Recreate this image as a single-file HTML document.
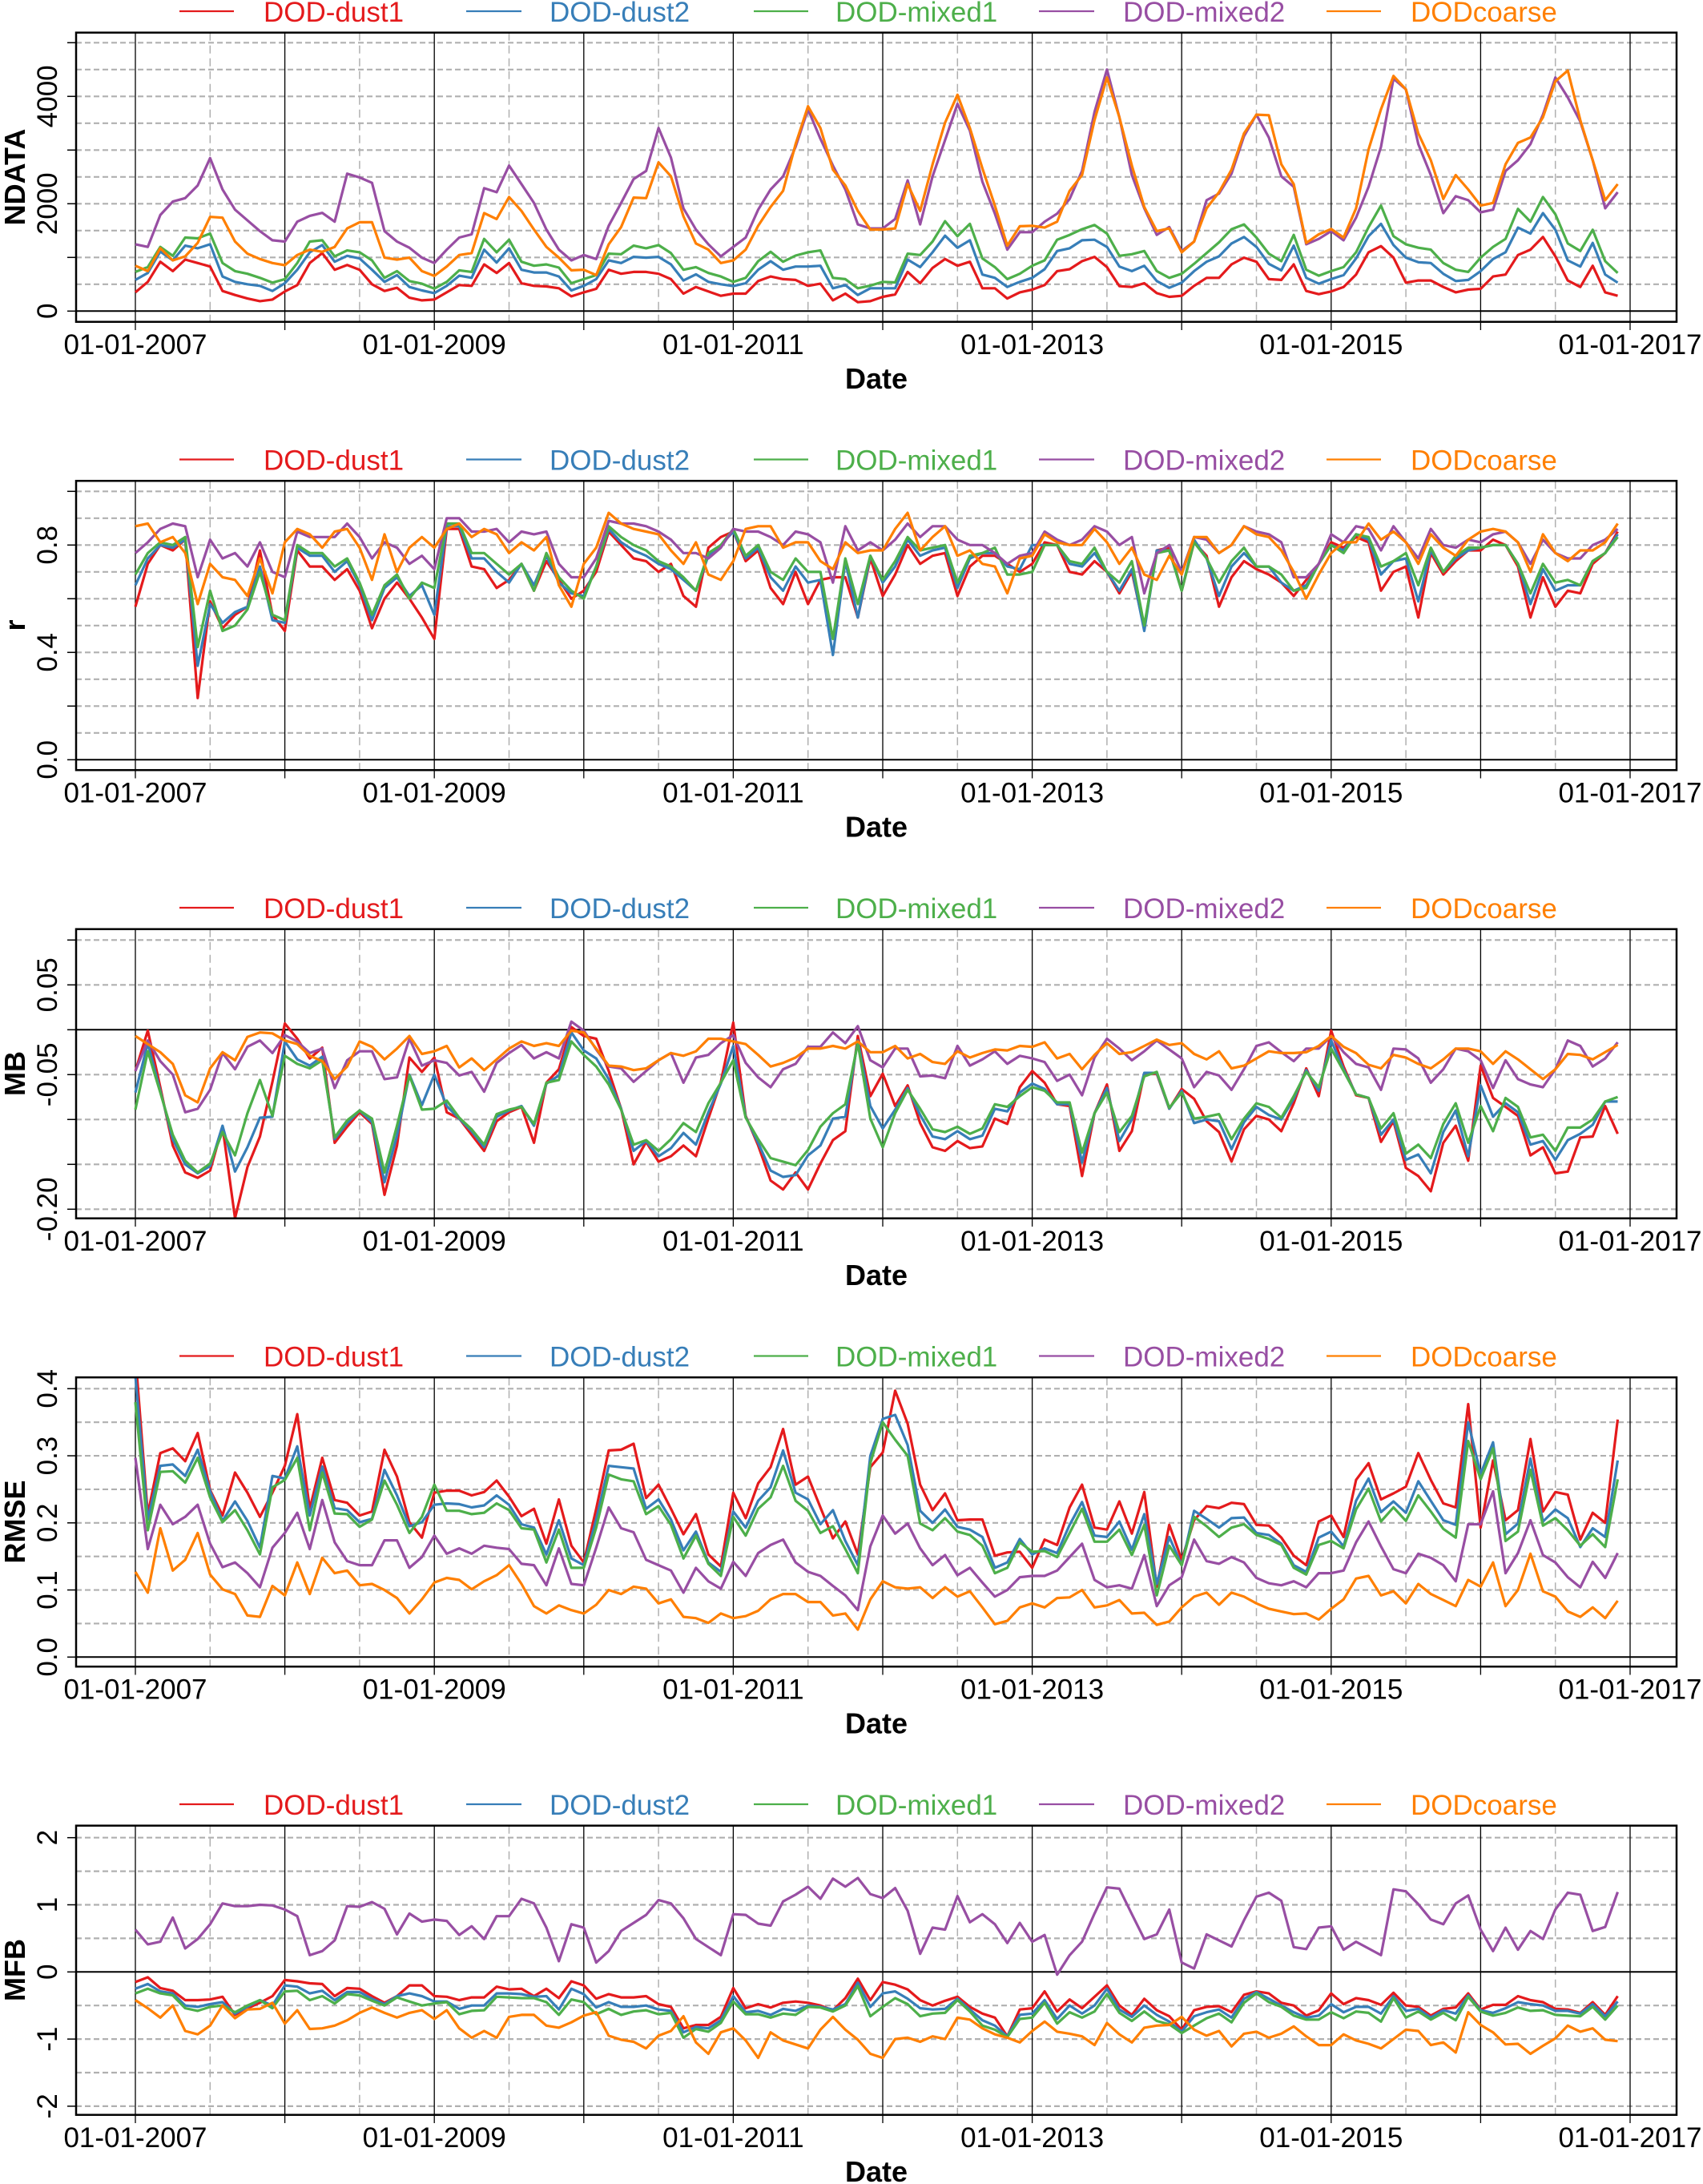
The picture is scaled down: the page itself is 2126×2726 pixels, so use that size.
<!DOCTYPE html>
<html><head><meta charset="utf-8">
<style>
html,body{margin:0;padding:0;background:#fff;}
svg{display:block;font-family:"Liberation Sans",Arial,sans-serif;}
</style></head>
<body>
<svg id="chart" xmlns="http://www.w3.org/2000/svg" width="2126" height="2726" viewBox="0 0 2126 2726"></svg>
<script>
// ---------------- DATA ----------------
const seriesNames = ["DOD-dust1","DOD-dust2","DOD-mixed1","DOD-mixed2","DODcoarse"];
const startYear = 2007;
const xTickYears = [2007,2008,2009,2010,2011,2012,2013,2014,2015,2016,2017];
const xTickLabels = ["01-01-2007","","01-01-2009","","01-01-2011","","01-01-2013","","01-01-2015","","01-01-2017"];

const ndataDust1 = [350,545,920,745,960,895,830,375,300,235, 185,215,365,485,895,1080,770,860,770,500, 375,435,250,200,215,350,485,470,870,710, 895,520,470,460,425,275,350,415,770,695, 730,730,695,595,325,450,365,285,325,325, 560,645,595,580,470,510,200,325,165,185, 265,310,730,520,805,970,845,920,425,425, 235,350,400,485,745,780,930,1010,820,465, 450,520,335,265,285,470,620,620,870,995, 920,595,580,870,375,315,365,450,680,1095, 1210,995,530,570,570,450,350,400,415,645, 680,1045,1145,1380,1020,570,450,845,350,285];
const ndataDust2 = [580,710,1110,945,1220,1170,1245,645,545,500, 470,375,520,770,1095,1230,920,1030,980,770, 545,670,450,385,335,470,660,620,1145,905, 1170,770,720,720,645,385,470,595,945,895, 1010,995,1010,870,570,685,545,500,465,520, 770,930,770,830,830,845,425,485,300,425, 425,425,960,820,1095,1405,1180,1320,680,620, 450,545,620,780,1120,1170,1320,1330,1195,830, 745,845,560,435,530,745,920,1020,1260,1380, 1195,880,760,1220,620,510,595,670,980,1395, 1625,1230,995,910,895,695,560,580,745,970, 1095,1555,1445,1825,1515,945,830,1270,680,530];
const ndataMixed1 = [730,820,1195,1030,1370,1355,1445,895,745,695, 620,530,595,895,1295,1320,1020,1130,1095,945, 620,745,560,510,420,545,760,730,1345,1095, 1330,920,845,870,810,520,595,670,1070,1060, 1220,1170,1230,1080,770,820,710,645,545,620, 930,1105,920,1035,1095,1130,620,595,425,475, 545,535,1070,1045,1295,1675,1395,1625,980,820, 595,695,845,945,1330,1420,1525,1605,1445,1030, 1060,1120,745,620,695,880,1080,1280,1525,1615, 1370,1070,930,1420,770,660,745,820,1095,1565, 1965,1395,1245,1180,1145,895,770,730,995,1195, 1345,1905,1665,2125,1805,1260,1120,1515,930,710];
const ndataMixed2 = [1245,1195,1790,2040,2105,2340,2850,2265,1890,1690, 1490,1320,1295,1665,1775,1830,1665,2560,2490,2390, 1490,1295,1180,995,895,1145,1370,1430,2290,2215, 2710,2365,2015,1520,1145,945,1045,970,1590,2015, 2460,2610,3410,2860,1915,1520,1245,1020,1195,1370, 1890,2265,2510,3060,3760,3210,2710,2265,1615,1540, 1540,1715,2435,1615,2510,3185,3860,3360,2410,1815, 1145,1470,1470,1665,1815,2090,2610,3710,4500,3610, 2535,1915,1420,1565,1120,1295,2065,2190,2560,3260, 3660,3235,2510,2315,1245,1345,1490,1320,1740,2315, 3060,4330,4130,3110,2535,1825,2140,2065,1840,1890, 2610,2810,3110,3660,4350,3980,3530,2810,1915,2215];
const ndataCoarse = [845,745,1170,945,1020,1270,1755,1740,1295,1070, 970,895,855,1045,1145,1105,1195,1540,1655,1655, 995,960,995,745,655,830,1045,1080,1825,1715, 2125,1865,1520,1195,995,760,770,670,1245,1565, 2115,2105,2770,2510,1765,1260,1145,895,945,1145, 1590,1940,2240,3110,3815,3410,2635,2340,1865,1520, 1520,1540,2365,1865,2735,3510,4030,3410,2660,1965, 1220,1580,1590,1555,1665,2240,2535,3560,4350,3610, 2710,1940,1490,1540,1095,1295,1915,2215,2635,3310, 3660,3650,2735,2365,1270,1430,1530,1370,1915,3010, 3760,4380,4130,3310,2810,2090,2535,2265,1965,2015, 2735,3135,3235,3610,4280,4480,3560,2810,2065,2365];

const rDust1 = [.57,.73,.80,.78,.82,.23,.59,.49,.54,.57, .78,.54,.48,.78,.72,.72,.67,.71,.63,.49, .60,.66,.60,.53,.45,.86,.86,.72,.71,.64, .67,.73,.63,.74,.67,.60,.63,.70,.85,.80, .75,.74,.70,.73,.61,.57,.79,.83,.85,.74, .78,.64,.58,.70,.58,.67,.68,.68,.53,.75, .61,.69,.80,.73,.76,.77,.61,.72,.76,.76, .73,.70,.73,.81,.80,.70,.69,.74,.70,.62, .70,.49,.78,.79,.63,.81,.76,.57,.68,.74, .71,.69,.66,.61,.67,.73,.81,.79,.83,.81, .63,.70,.72,.53,.77,.69,.74,.78,.78,.82, .80,.72,.53,.68,.57,.63,.62,.73,.77,.85];
const rDust2 = [.65,.75,.80,.79,.82,.35,.58,.51,.55,.57, .72,.52,.51,.79,.76,.76,.70,.74,.65,.52, .64,.68,.61,.65,.54,.87,.87,.75,.75,.70, .66,.73,.65,.76,.66,.62,.61,.72,.86,.81, .78,.76,.73,.71,.67,.63,.76,.80,.85,.75, .79,.68,.63,.72,.66,.67,.39,.74,.53,.76, .66,.72,.82,.76,.78,.79,.64,.75,.77,.77, .72,.71,.80,.80,.80,.73,.72,.77,.70,.63, .71,.48,.78,.78,.63,.82,.75,.61,.72,.77, .72,.72,.66,.63,.65,.73,.80,.78,.84,.82, .69,.74,.75,.59,.78,.70,.75,.78,.79,.80, .80,.73,.58,.71,.63,.65,.65,.74,.77,.84];
const rMixed1 = [.69,.77,.81,.80,.83,.42,.63,.48,.50,.56, .70,.54,.52,.80,.77,.77,.72,.75,.66,.54, .65,.69,.60,.66,.64,.88,.88,.77,.77,.73, .69,.73,.63,.77,.68,.63,.60,.72,.87,.83, .80,.78,.74,.72,.68,.63,.77,.80,.86,.76, .80,.70,.67,.75,.70,.70,.45,.75,.58,.76, .67,.74,.83,.78,.79,.80,.66,.76,.77,.79, .69,.69,.70,.80,.80,.74,.73,.79,.70,.66, .74,.50,.77,.78,.63,.81,.75,.66,.74,.79, .72,.72,.69,.63,.64,.73,.80,.77,.84,.83, .72,.74,.77,.65,.79,.70,.76,.79,.79,.80, .80,.73,.62,.73,.66,.67,.65,.74,.77,.83];
const rMixed2 = [.77,.81,.86,.88,.87,.68,.82,.75,.77,.72, .81,.70,.68,.85,.83,.83,.83,.88,.83,.75, .81,.79,.73,.76,.71,.90,.90,.85,.85,.86, .81,.85,.84,.85,.73,.68,.68,.75,.89,.88, .88,.87,.85,.82,.77,.77,.75,.79,.86,.85, .85,.83,.80,.85,.84,.81,.66,.87,.78,.81, .78,.82,.88,.83,.87,.87,.82,.80,.80,.77, .73,.76,.77,.85,.82,.80,.82,.87,.85,.80, .83,.62,.77,.80,.70,.83,.82,.77,.80,.87, .85,.84,.81,.68,.68,.73,.84,.81,.87,.86, .78,.87,.81,.75,.86,.80,.79,.82,.81,.84, .85,.81,.73,.82,.77,.75,.75,.80,.82,.86];
const rCoarse = [.87,.88,.81,.83,.77,.58,.73,.68,.67,.61, .75,.62,.81,.86,.84,.79,.85,.86,.79,.67, .84,.70,.79,.83,.79,.86,.88,.83,.86,.84, .77,.81,.78,.83,.65,.57,.73,.79,.92,.88, .86,.85,.84,.78,.73,.81,.69,.67,.74,.86, .87,.87,.79,.81,.81,.74,.71,.81,.77,.78, .78,.86,.92,.78,.83,.87,.76,.78,.73,.72, .62,.75,.76,.84,.81,.80,.80,.86,.81,.73, .79,.69,.67,.76,.69,.83,.83,.77,.80,.87, .84,.83,.78,.70,.60,.69,.77,.81,.81,.88, .82,.85,.81,.73,.84,.79,.76,.82,.85,.86, .85,.81,.70,.84,.77,.74,.78,.78,.81,.88];

const mbDust1 = [-.046,-.001,-.064,-.129,-.159,-.165,-.157,-.108,-.210,-.153, -.119,-.058,.007,-.010,-.032,-.020,-.126,-.108,-.092,-.105, -.184,-.129,-.031,-.047,-.031,-.092,-.099,-.117,-.135,-.102, -.092,-.086,-.126,-.059,-.044,.003,-.007,-.010,-.046,-.088, -.150,-.125,-.147,-.141,-.129,-.141,-.099,-.058,.008,-.096, -.129,-.168,-.178,-.159,-.178,-.149,-.123,-.113,-.007,-.074, -.049,-.085,-.062,-.104,-.131,-.135,-.124,-.132,-.130,-.099, -.105,-.064,-.046,-.059,-.083,-.085,-.163,-.093,-.061,-.135, -.113,-.049,-.049,-.088,-.066,-.077,-.102,-.114,-.147,-.111, -.096,-.100,-.113,-.082,-.043,-.074,-.001,-.041,-.073,-.076, -.125,-.102,-.154,-.163,-.180,-.126,-.107,-.146,-.040,-.076, -.086,-.096,-.140,-.131,-.160,-.158,-.120,-.119,-.085,-.116];
const mbDust2 = [-.070,-.015,-.068,-.122,-.150,-.160,-.152,-.107,-.158,-.131, -.098,-.097,-.013,-.033,-.040,-.030,-.122,-.104,-.090,-.103, -.170,-.118,-.050,-.084,-.050,-.085,-.099,-.113,-.131,-.097, -.090,-.085,-.107,-.060,-.051,-.003,-.023,-.032,-.055,-.088, -.135,-.124,-.141,-.132,-.115,-.128,-.092,-.060,-.018,-.097, -.126,-.157,-.164,-.162,-.140,-.129,-.099,-.097,-.012,-.085, -.110,-.089,-.065,-.095,-.119,-.122,-.113,-.122,-.118,-.088, -.091,-.070,-.060,-.066,-.083,-.083,-.148,-.093,-.065,-.124, -.100,-.048,-.048,-.088,-.068,-.104,-.100,-.102,-.133,-.103, -.086,-.095,-.100,-.077,-.045,-.068,-.012,-.044,-.072,-.076, -.117,-.100,-.145,-.139,-.160,-.114,-.090,-.141,-.062,-.097, -.082,-.092,-.128,-.124,-.145,-.123,-.116,-.106,-.080,-.080];
const mbMixed1 = [-.089,-.024,-.070,-.117,-.146,-.159,-.149,-.114,-.140,-.093, -.056,-.096,-.029,-.038,-.043,-.034,-.120,-.101,-.090,-.099, -.159,-.107,-.051,-.089,-.088,-.079,-.098,-.111,-.128,-.094, -.089,-.086,-.105,-.059,-.056,-.013,-.028,-.041,-.061,-.089, -.128,-.123,-.135,-.122,-.104,-.114,-.082,-.059,-.034,-.098, -.122,-.143,-.147,-.151,-.134,-.108,-.093,-.083,-.015,-.099, -.131,-.093,-.067,-.088,-.111,-.114,-.108,-.116,-.110,-.083, -.086,-.074,-.064,-.068,-.081,-.081,-.137,-.093,-.070,-.114, -.096,-.052,-.047,-.087,-.070,-.099,-.097,-.094,-.122,-.099, -.082,-.086,-.098,-.074,-.047,-.064,-.021,-.046,-.072,-.076, -.110,-.093,-.138,-.128,-.143,-.105,-.082,-.126,-.085,-.113, -.076,-.086,-.120,-.117,-.135,-.109,-.109,-.100,-.080,-.075];
const mbMixed2 = [-.046,-.012,-.035,-.050,-.092,-.088,-.067,-.026,-.044,-.019, -.012,-.026,-.006,-.013,-.026,-.021,-.065,-.034,-.024,-.024, -.055,-.053,-.010,-.040,-.034,-.037,-.051,-.047,-.069,-.037, -.026,-.017,-.032,-.025,-.032,.009,-.001,-.022,-.041,-.043, -.058,-.046,-.034,-.026,-.059,-.031,-.028,-.015,-.006,-.037, -.053,-.064,-.044,-.038,-.019,-.019,-.003,-.015,.004,-.034, -.042,-.021,-.021,-.052,-.051,-.054,-.018,-.040,-.033,-.024, -.038,-.029,-.032,-.036,-.057,-.050,-.073,-.031,-.010,-.021, -.034,-.024,-.012,-.022,-.032,-.064,-.047,-.051,-.067,-.044, -.018,-.014,-.025,-.035,-.021,-.021,-.007,-.025,-.038,-.042, -.067,-.021,-.022,-.032,-.059,-.044,-.021,-.024,-.034,-.065, -.034,-.055,-.061,-.064,-.044,-.012,-.018,-.041,-.032,-.014];
const mbCoarse = [-.007,-.016,-.025,-.038,-.073,-.081,-.043,-.025,-.034,-.008, -.003,-.004,-.012,-.016,-.029,-.035,-.055,-.041,-.013,-.019, -.033,-.021,-.007,-.027,-.024,-.018,-.042,-.032,-.045,-.033, -.021,-.013,-.018,-.015,-.018,-.001,-.003,-.021,-.040,-.041, -.045,-.043,-.034,-.026,-.029,-.024,-.010,-.010,-.013,-.016, -.028,-.041,-.037,-.031,-.021,-.021,-.018,-.021,-.013,-.025, -.025,-.018,-.032,-.027,-.036,-.038,-.024,-.031,-.026,-.022, -.023,-.018,-.019,-.014,-.032,-.027,-.044,-.028,-.015,-.027, -.025,-.018,-.011,-.017,-.015,-.027,-.033,-.024,-.043,-.040, -.032,-.024,-.026,-.026,-.025,-.018,-.007,-.019,-.026,-.039, -.043,-.028,-.031,-.038,-.043,-.033,-.021,-.021,-.024,-.038, -.024,-.033,-.044,-.055,-.044,-.027,-.028,-.033,-.025,-.017];

const rmseDust1 = [.45,.213,.304,.311,.292,.334,.249,.211,.275,.245, .209,.245,.285,.362,.221,.297,.234,.230,.211,.217, .309,.269,.201,.178,.245,.248,.248,.241,.246,.263, .239,.210,.221,.169,.235,.166,.141,.221,.308,.309, .318,.237,.257,.221,.183,.213,.153,.135,.245,.207, .259,.283,.340,.257,.269,.223,.177,.202,.153,.283, .305,.397,.348,.257,.219,.244,.204,.205,.205,.151, .156,.157,.133,.175,.167,.223,.257,.193,.190,.232, .184,.246,.105,.197,.145,.204,.225,.222,.230,.228, .197,.196,.178,.151,.137,.202,.211,.179,.264,.289, .235,.244,.254,.304,.264,.229,.223,.377,.193,.293, .204,.219,.325,.217,.246,.242,.175,.215,.200,.354];
const rmseDust2 = [.42,.205,.285,.287,.270,.309,.247,.203,.232,.203, .163,.270,.266,.314,.211,.284,.222,.219,.201,.206, .279,.241,.195,.201,.227,.229,.228,.223,.226,.241, .227,.198,.193,.153,.204,.147,.137,.205,.285,.283, .281,.221,.235,.205,.159,.187,.141,.127,.217,.193, .233,.253,.308,.245,.235,.198,.219,.173,.137,.300, .355,.361,.316,.218,.200,.220,.194,.190,.179,.133, .141,.176,.153,.162,.155,.197,.231,.181,.179,.202, .160,.213,.109,.179,.137,.218,.206,.193,.207,.208, .185,.182,.169,.137,.127,.178,.187,.165,.233,.266, .216,.232,.215,.262,.233,.204,.197,.350,.273,.320, .183,.199,.296,.202,.220,.207,.164,.192,.179,.293];
const rmseMixed1 = [.38,.189,.276,.277,.260,.297,.238,.201,.219,.189, .153,.253,.264,.297,.189,.275,.214,.213,.194,.205, .263,.227,.185,.209,.257,.218,.218,.213,.215,.229, .219,.192,.190,.141,.190,.133,.133,.193,.272,.265, .262,.213,.225,.197,.147,.181,.139,.121,.209,.181, .221,.238,.285,.233,.218,.185,.195,.161,.125,.289, .350,.324,.300,.199,.189,.207,.187,.182,.166,.125, .133,.171,.157,.158,.149,.185,.221,.172,.172,.190, .152,.197,.092,.166,.137,.209,.195,.179,.193,.198, .182,.176,.167,.133,.123,.167,.173,.162,.220,.251, .202,.223,.203,.241,.217,.191,.178,.322,.265,.311, .173,.187,.279,.196,.207,.189,.166,.183,.164,.265];
const rmseMixed2 = [.297,.161,.227,.198,.209,.227,.169,.134,.141,.125, .104,.163,.185,.215,.161,.234,.171,.143,.137,.137, .174,.174,.133,.149,.181,.154,.162,.154,.166,.163, .161,.139,.137,.107,.162,.109,.107,.163,.223,.192, .186,.145,.137,.129,.096,.133,.113,.102,.142,.121, .155,.167,.175,.141,.127,.121,.106,.092,.070,.165, .211,.184,.199,.162,.137,.152,.122,.133,.111,.090, .100,.119,.121,.121,.129,.149,.169,.115,.104,.107, .102,.152,.076,.107,.119,.175,.143,.139,.149,.141, .118,.110,.107,.113,.104,.125,.125,.129,.171,.202, .165,.131,.125,.154,.148,.137,.113,.198,.198,.247, .125,.155,.204,.152,.141,.119,.104,.142,.118,.155];
const rmseCoarse = [.127,.096,.192,.129,.145,.185,.123,.101,.094,.062, .060,.106,.092,.141,.094,.148,.125,.129,.107,.109, .100,.088,.065,.086,.111,.118,.115,.101,.113,.122, .137,.109,.076,.065,.077,.070,.065,.078,.100,.094, .105,.102,.080,.086,.060,.058,.051,.065,.058,.061, .069,.086,.094,.094,.082,.082,.062,.065,.041,.086, .113,.104,.102,.104,.088,.104,.090,.098,.074,.049, .054,.074,.080,.074,.088,.089,.100,.074,.077,.085, .065,.066,.048,.053,.074,.090,.096,.078,.096,.090, .080,.072,.068,.064,.065,.056,.072,.086,.117,.121, .092,.098,.080,.109,.094,.085,.076,.115,.105,.141, .076,.100,.154,.098,.090,.068,.060,.074,.058,.084];

const mfbDust1 = [-.15,-.08,-.24,-.28,-.42,-.42,-.41,-.37,-.64,-.54, -.46,-.36,-.12,-.14,-.17,-.18,-.36,-.24,-.25,-.36, -.46,-.36,-.20,-.20,-.36,-.37,-.42,-.38,-.38,-.22, -.26,-.25,-.36,-.25,-.39,-.14,-.20,-.40,-.33,-.38, -.38,-.36,-.48,-.52,-.84,-.79,-.79,-.67,-.24,-.54, -.48,-.53,-.46,-.44,-.46,-.50,-.57,-.39,-.10,-.42, -.15,-.19,-.26,-.42,-.50,-.43,-.37,-.52,-.62,-.68, -.96,-.56,-.54,-.29,-.59,-.41,-.54,-.37,-.20,-.50, -.64,-.40,-.57,-.66,-.86,-.57,-.52,-.51,-.60,-.34, -.29,-.32,-.46,-.50,-.65,-.57,-.32,-.48,-.39,-.42, -.49,-.31,-.50,-.52,-.65,-.55,-.53,-.32,-.56,-.49, -.49,-.36,-.42,-.45,-.55,-.56,-.61,-.45,-.64,-.36];
const mfbDust2 = [-.25,-.18,-.29,-.32,-.50,-.52,-.48,-.45,-.62,-.52, -.42,-.50,-.20,-.22,-.32,-.28,-.42,-.30,-.30,-.40, -.48,-.36,-.32,-.36,-.44,-.44,-.55,-.50,-.50,-.32, -.32,-.33,-.37,-.36,-.56,-.25,-.33,-.53,-.45,-.52, -.52,-.50,-.56,-.58,-.90,-.82,-.84,-.72,-.36,-.60, -.58,-.64,-.55,-.58,-.50,-.52,-.56,-.48,-.16,-.52, -.32,-.29,-.40,-.54,-.56,-.55,-.40,-.56,-.72,-.80, -.96,-.64,-.62,-.42,-.70,-.50,-.62,-.50,-.25,-.56, -.67,-.50,-.64,-.74,-.89,-.66,-.60,-.56,-.68,-.40, -.30,-.40,-.50,-.60,-.68,-.65,-.48,-.60,-.52,-.52, -.62,-.36,-.58,-.55,-.68,-.57,-.62,-.35,-.57,-.61, -.54,-.45,-.48,-.50,-.58,-.58,-.62,-.48,-.66,-.44];
const mfbMixed1 = [-.32,-.25,-.32,-.35,-.54,-.58,-.52,-.50,-.60,-.50, -.42,-.54,-.29,-.28,-.42,-.36,-.47,-.33,-.35,-.43, -.50,-.38,-.44,-.50,-.47,-.45,-.63,-.58,-.57,-.37, -.38,-.39,-.39,-.45,-.64,-.41,-.45,-.63,-.55,-.64, -.59,-.57,-.63,-.61,-.98,-.85,-.89,-.76,-.44,-.63, -.63,-.68,-.62,-.64,-.52,-.53,-.59,-.50,-.21,-.66, -.52,-.39,-.48,-.66,-.62,-.61,-.42,-.59,-.80,-.86, -.97,-.70,-.68,-.46,-.77,-.60,-.68,-.59,-.33,-.61, -.73,-.59,-.73,-.78,-.91,-.80,-.69,-.62,-.75,-.46, -.32,-.45,-.52,-.65,-.71,-.71,-.60,-.69,-.59,-.61, -.74,-.39,-.68,-.59,-.71,-.61,-.72,-.37,-.59,-.65, -.61,-.53,-.58,-.57,-.64,-.65,-.66,-.52,-.71,-.50];
const mfbMixed2 = [.63,.41,.45,.81,.35,.49,.71,1.02,.98,.98, 1.00,.99,.93,.83,.25,.31,.47,.98,.97,1.04, .94,.56,.87,.75,.78,.76,.55,.68,.49,.83, .83,1.09,1.02,.66,.16,.71,.66,.14,.31,.61, .73,.85,1.07,1.02,.80,.49,.37,.25,.86,.85, .72,.69,1.05,1.15,1.27,1.09,1.39,1.27,1.40,1.16, 1.10,1.25,.91,.27,.66,.63,1.13,.74,.86,.71, .43,.73,.45,.55,-.04,.25,.45,.87,1.26,1.24, .86,.49,.56,.93,.14,.05,.56,.47,.38,.77, 1.12,1.18,1.06,.37,.34,.66,.68,.33,.45,.35, .25,1.23,1.20,1.01,.78,.71,1.02,1.14,.63,.31, .66,.33,.61,.49,.93,1.18,1.15,.61,.67,1.19];
const mfbCoarse = [-.42,-.54,-.68,-.50,-.88,-.93,-.80,-.50,-.69,-.56, -.55,-.46,-.77,-.57,-.85,-.84,-.80,-.72,-.61,-.53, -.61,-.68,-.61,-.57,-.70,-.57,-.84,-.98,-.88,-.98, -.67,-.64,-.64,-.80,-.83,-.75,-.65,-.60,-.95,-1.01, -1.04,-1.14,-.95,-.88,-.66,-1.05,-1.22,-.90,-.84,-1.02, -1.28,-.90,-1.02,-1.08,-1.14,-.86,-.67,-.86,-1.01,-1.22, -1.28,-1.00,-.98,-1.04,-.96,-1.00,-.68,-.71,-.84,-.93, -.98,-1.05,-.88,-.74,-.89,-.92,-.96,-1.09,-.76,-.93, -1.05,-.83,-.80,-.79,-.67,-.86,-.95,-.88,-1.11,-.92, -.89,-.98,-.92,-.81,-.96,-1.09,-1.09,-.93,-1.02,-1.07, -1.14,-1.00,-.86,-.88,-1.09,-1.05,-1.20,-.60,-.79,-.90, -1.08,-1.07,-1.22,-1.10,-.99,-.80,-.89,-.84,-1.01,-1.03];

// ---------------- LAYOUT ----------------
const NS = "http://www.w3.org/2000/svg";
const svg = document.getElementById("chart");
const colors = ["#E41A1C","#377EB8","#4DAF4A","#984EA3","#FF7F00"];
const BOX_L = 95, BOX_R = 2093, BOX_T = 40.7, BOX_B = 401.7, PANEL_H = 559.5;
function xScale(t){ return 169 + (t - startYear) * 186.6; }

const panels = [
  {key:"ndata", title:"NDATA", series:[ndataDust1,ndataDust2,ndataMixed1,ndataMixed2,ndataCoarse],
   zeroY:388.3, k:0.067, grid:[500,1000,1500,2000,2500,3000,3500,4000,4500,5000], ticks:[0,1000,2000,3000,4000,5000],
   labels:[[0,"0"],[2000,"2000"],[4000,"4000"]]},
  {key:"r", title:"r", series:[rDust1,rDust2,rMixed1,rMixed2,rCoarse],
   zeroY:388.8, k:335, grid:[.1,.2,.3,.4,.5,.6,.7,.8,.9,1.0], ticks:[0,.2,.4,.6,.8,1.0],
   labels:[[0,"0.0"],[.4,"0.4"],[.8,"0.8"]]},
  {key:"mb", title:"MB", series:[mbDust1,mbDust2,mbMixed1,mbMixed2,mbCoarse],
   zeroY:166.3, k:1120, grid:[.10,.05,-.05,-.10,-.15,-.20], ticks:[.10,.05,0,-.05,-.10,-.15,-.20],
   labels:[[.05,"0.05"],[-.05,"-0.05"],[-.20,"-0.20"]]},
  {key:"rmse", title:"RMSE", series:[rmseDust1,rmseDust2,rmseMixed1,rmseMixed2,rmseCoarse],
   zeroY:389.8, k:837.5, grid:[.05,.1,.15,.2,.25,.3,.35,.4], ticks:[0,.1,.2,.3,.4],
   labels:[[0,"0.0"],[.1,"0.1"],[.2,"0.2"],[.3,"0.3"],[.4,"0.4"]]},
  {key:"mfb", title:"MFB", series:[mfbDust1,mfbDust2,mfbMixed1,mfbMixed2,mfbCoarse],
   zeroY:223.3, k:83.8, grid:[2,1.5,1,.5,-.5,-1,-1.5,-2], ticks:[2,1,0,-1,-2],
   labels:[[2,"2"],[1,"1"],[0,"0"],[-1,"-1"],[-2,"-2"]]}
];

function mk(tag, attrs, parent){
  const e = document.createElementNS(NS, tag);
  for (const a in attrs) e.setAttribute(a, attrs[a]);
  (parent||svg).appendChild(e);
  return e;
}
const defs = mk("defs", {});
const legendLines = [[224,292,329],[582,651,686],[941,1009,1043],[1297,1366,1402],[1656,1724,1761]];

panels.forEach((p, pi) => {
  const oy = pi * PANEL_H;
  const yS = v => oy + p.zeroY - v * p.k;
  const g = mk("g", {});
  
  

  const cp = mk("clipPath", {id:"clip"+pi}, defs);
  mk("rect", {x:BOX_L, y:oy+BOX_T, width:BOX_R-BOX_L, height:BOX_B-BOX_T}, cp);

  // horizontal grid
  p.grid.forEach(v => {
    const l = mk("line", {x1:BOX_L, x2:BOX_R, y1:yS(v), y2:yS(v), stroke:"#b0b0b0", "stroke-width":2.2, "stroke-dasharray":"7,4"}, g);
    
    
  });
  // mid-year dashed verticals
  for (let yr = 2007; yr < 2017; yr++) {
    const x = xScale(yr + 0.5);
    const l = mk("line", {x1:x, x2:x, y1:oy+BOX_T, y2:oy+BOX_B, stroke:"#b0b0b0", "stroke-width":1.5, "stroke-dasharray":"10,6"}, g);
    
    
  }
  // zero line
  const z = mk("line", {x1:BOX_L, x2:BOX_R, y1:yS(0), y2:yS(0), stroke:"#000", "stroke-width":2}, g);
  
  
  // year lines + x tick labels
  xTickYears.forEach((yr, j) => {
    const x = xScale(yr);
    const l = mk("line", {x1:x, x2:x, y1:oy+BOX_T, y2:oy+412, stroke:"#000", "stroke-width":1.3}, g);
    
    
    if (xTickLabels[j]) {
      const t = mk("text", {x:x, y:oy+442, "text-anchor":"middle", "font-size":35, fill:"#000"}, g);
      t.textContent = xTickLabels[j];
      
      
    }
  });
  // series
  const sg = mk("g", {"clip-path":"url(#clip"+pi+")"}, g);
  p.series.forEach((arr, si) => {
    const pts = arr.map((v, i) => xScale(startYear + i/12).toFixed(1) + "," + yS(v).toFixed(1)).join(" ");
    const pl = mk("polyline", {points:pts, fill:"none", stroke:colors[si], "stroke-width":3.2, "stroke-linejoin":"round"}, sg);
    
    
  });
  // box
  const box = mk("rect", {x:BOX_L, y:oy+BOX_T, width:BOX_R-BOX_L, height:BOX_B-BOX_T, fill:"none", stroke:"#000", "stroke-width":2.5}, g);
  
  
  // y ticks
  p.ticks.forEach(v => {
    const l = mk("line", {x1:84, x2:BOX_L, y1:yS(v), y2:yS(v), stroke:"#000", "stroke-width":1.5}, g);
    
    
  });
  p.labels.forEach(([v, s]) => {
    const t = mk("text", {x:0, y:0, "text-anchor":"middle", "font-size":35, fill:"#000", transform:"translate(71,"+yS(v)+") rotate(-90)"}, g);
    t.textContent = s;
    
    
  });
  // y title
  const yt = mk("text", {x:0, y:0, "text-anchor":"middle", "font-size":36, "font-weight":"bold", fill:"#000", transform:"translate(31,"+(oy+221)+") rotate(-90)"}, g);
  yt.textContent = p.title;
  
  
  // x title
  const xt = mk("text", {x:1094, y:oy+485, "text-anchor":"middle", "font-size":36, "font-weight":"bold", fill:"#000"}, g);
  xt.textContent = "Date";
  
  
  // legend
  const lg = mk("g", {}, g);
  
  
  seriesNames.forEach((n, si) => {
    const [a, b, tx] = legendLines[si];
    const e = mk("g", {}, lg);
    
    
    mk("line", {x1:a, x2:b, y1:oy+14, y2:oy+14, stroke:colors[si], "stroke-width":2.2}, e);
    const t = mk("text", {x:tx, y:oy+27, "font-size":35, fill:colors[si]}, e);
    t.textContent = n;
  });
});
</script>
</body></html>
